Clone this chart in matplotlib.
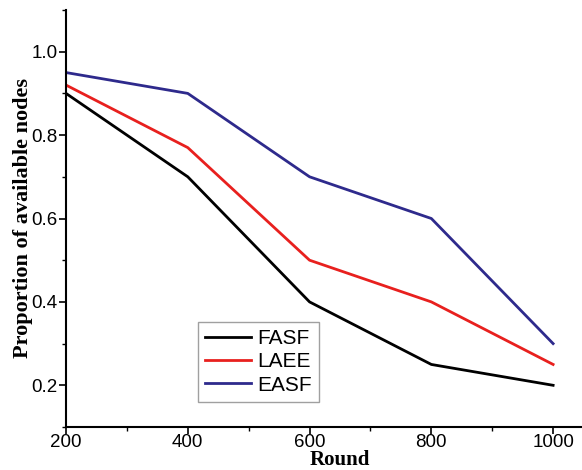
import matplotlib
matplotlib.use("Agg")
import matplotlib.pyplot as plt
from matplotlib.ticker import MultipleLocator

rounds = [200, 400, 600, 800, 1000]
fasf = [0.90, 0.70, 0.40, 0.25, 0.20]
laee = [0.92, 0.77, 0.50, 0.40, 0.25]
easf = [0.95, 0.90, 0.70, 0.60, 0.30]

plt.rcParams["font.family"] = ["Liberation Sans", "DejaVu Sans"]

fig = plt.figure(figsize=(5.82, 4.70), dpi=100)
ax = fig.add_axes([66/582, 43/470, 548/582, 417/470])

ax.plot(rounds, fasf, color="black", lw=2, label="FASF")
ax.plot(rounds, laee, color="#e8201e", lw=2, label="LAEE")
ax.plot(rounds, easf, color="#2e2a8c", lw=2, label="EASF")

ax.set_xlim(200, 1100)
ax.set_ylim(0.1, 1.1)
ax.set_xticks([200, 400, 600, 800, 1000])
ax.set_yticks([0.2, 0.4, 0.6, 0.8, 1.0])
ax.xaxis.set_minor_locator(MultipleLocator(100))
ax.yaxis.set_minor_locator(MultipleLocator(0.1))

for s in ["top", "right"]:
    ax.spines[s].set_visible(False)
for s in ["left", "bottom"]:
    ax.spines[s].set_linewidth(1.5)

ax.tick_params(which="major", direction="out", length=5, width=1.2, labelsize=13.5, pad=1)
ax.tick_params(axis="x", which="major", pad=0)
ax.tick_params(which="minor", direction="out", length=3, width=1.0)

ax.set_xlabel("Round", family="Liberation Serif", fontweight="bold", fontsize=15, labelpad=-1)
ax.set_ylabel("Proportion of available nodes", family="Liberation Serif", fontweight="bold", fontsize=16, labelpad=-1)

leg = ax.legend(loc="upper left", bbox_to_anchor=((198-66)/548, (427-322)/417),
                prop={"family": "Liberation Sans", "size": 15},
                frameon=True, fancybox=False, edgecolor="#888888",
                handlelength=2.2, handletextpad=0.3, labelspacing=0.2,
                borderpad=0.35, borderaxespad=0)
leg.get_frame().set_linewidth(1.0)

fig.savefig("out.png", dpi=100)
